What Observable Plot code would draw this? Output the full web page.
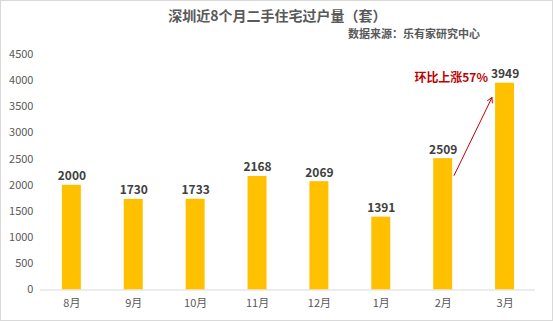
<!DOCTYPE html>
<html>
<head>
<meta charset="utf-8">
<script src="https://cdn.jsdelivr.net/npm/d3@7"></script>
<script src="https://cdn.jsdelivr.net/npm/@observablehq/plot@0.6"></script>
<style>
  html, body { margin: 0; padding: 0; background: #fff; }
  #wrap { position: relative; width: 553px; height: 321px; box-sizing: border-box; border: 1px solid #d9d9d9; overflow: hidden; font-family: "Noto Sans CJK SC", "Noto Sans", sans-serif; }
  #title { position: absolute; top: 4px; left: 0; width: 553px; text-align: center; font-size: 14px; font-weight: bold; color: #595959; }
  #source { position: absolute; top: 24px; right: 72px; font-size: 11px; font-weight: bold; color: #595959; }
  #chart { position: absolute; top: -1px; left: -1px; }
</style>
</head>
<body>
<div id="wrap">
  <div id="chart"></div>
  <div id="title">深圳近8个月二手住宅过户量（套）</div>
  <div id="source">数据来源：乐有家研究中心</div>
</div>
<script>
const months = ["8月", "9月", "10月", "11月", "12月", "1月", "2月", "3月"];
const values = [2000, 1730, 1733, 2168, 2069, 1391, 2509, 3949];
const yTicks = [0, 500, 1000, 1500, 2000, 2500, 3000, 3500, 4000, 4500];
const noteText = "环比上涨57%";
const noteFrom = {month: "2月", value: 1760};
const noteTo = {month: "3月", value: 4190};
const noteLabelValue = 4040;

const data = months.map((m, i) => ({month: m, value: values[i]}));

const chart = Plot.plot({
  width: 553,
  height: 321,
  marginTop: 54,
  marginBottom: 31,
  marginLeft: 40,
  marginRight: 17,
  style: {background: "transparent", fontFamily: "'Noto Sans CJK SC', 'Noto Sans', sans-serif", fontSize: "11px", color: "#595959"},
  x: {domain: months, paddingInner: 0.7, paddingOuter: 0.35, label: null},
  y: {domain: [0, 4500], ticks: yTicks, label: null},
  marks: [
    Plot.barY(data, {x: "month", y: "value", fill: "#FFC000"}),
    Plot.ruleY([0], {stroke: "#d9d9d9", strokeWidth: 1}),
    Plot.axisY({ticks: yTicks, tickSize: 0, tickPadding: 7, tickFormat: d => String(d), fill: "#595959", fontSize: 11, label: null}),
    Plot.axisX({tickSize: 0, tickPadding: 9, fill: "#595959", fontSize: 11, label: null}),
    Plot.text(data, {x: "month", y: "value", text: d => String(d.value), lineAnchor: "bottom", dy: -5, fontWeight: "bold", fontSize: 12, fill: "#404040"}),
    Plot.arrow([{x1: noteFrom.month, y1: noteFrom.value, x2: noteTo.month, y2: noteTo.value}], {
      x1: "x1", y1: "y1", x2: "x2", y2: "y2", bend: 0, stroke: "#c00000", strokeWidth: 1, headLength: 8, insetStart: 25, insetEnd: 30
    }),
    Plot.text([{month: "2月", value: noteLabelValue}], {x: "month", y: "value", text: () => noteText, dx: 8, fill: "#c00000", fontWeight: "bold", fontSize: 12})
  ]
});
document.getElementById("chart").appendChild(chart);
</script>
</body>
</html>
